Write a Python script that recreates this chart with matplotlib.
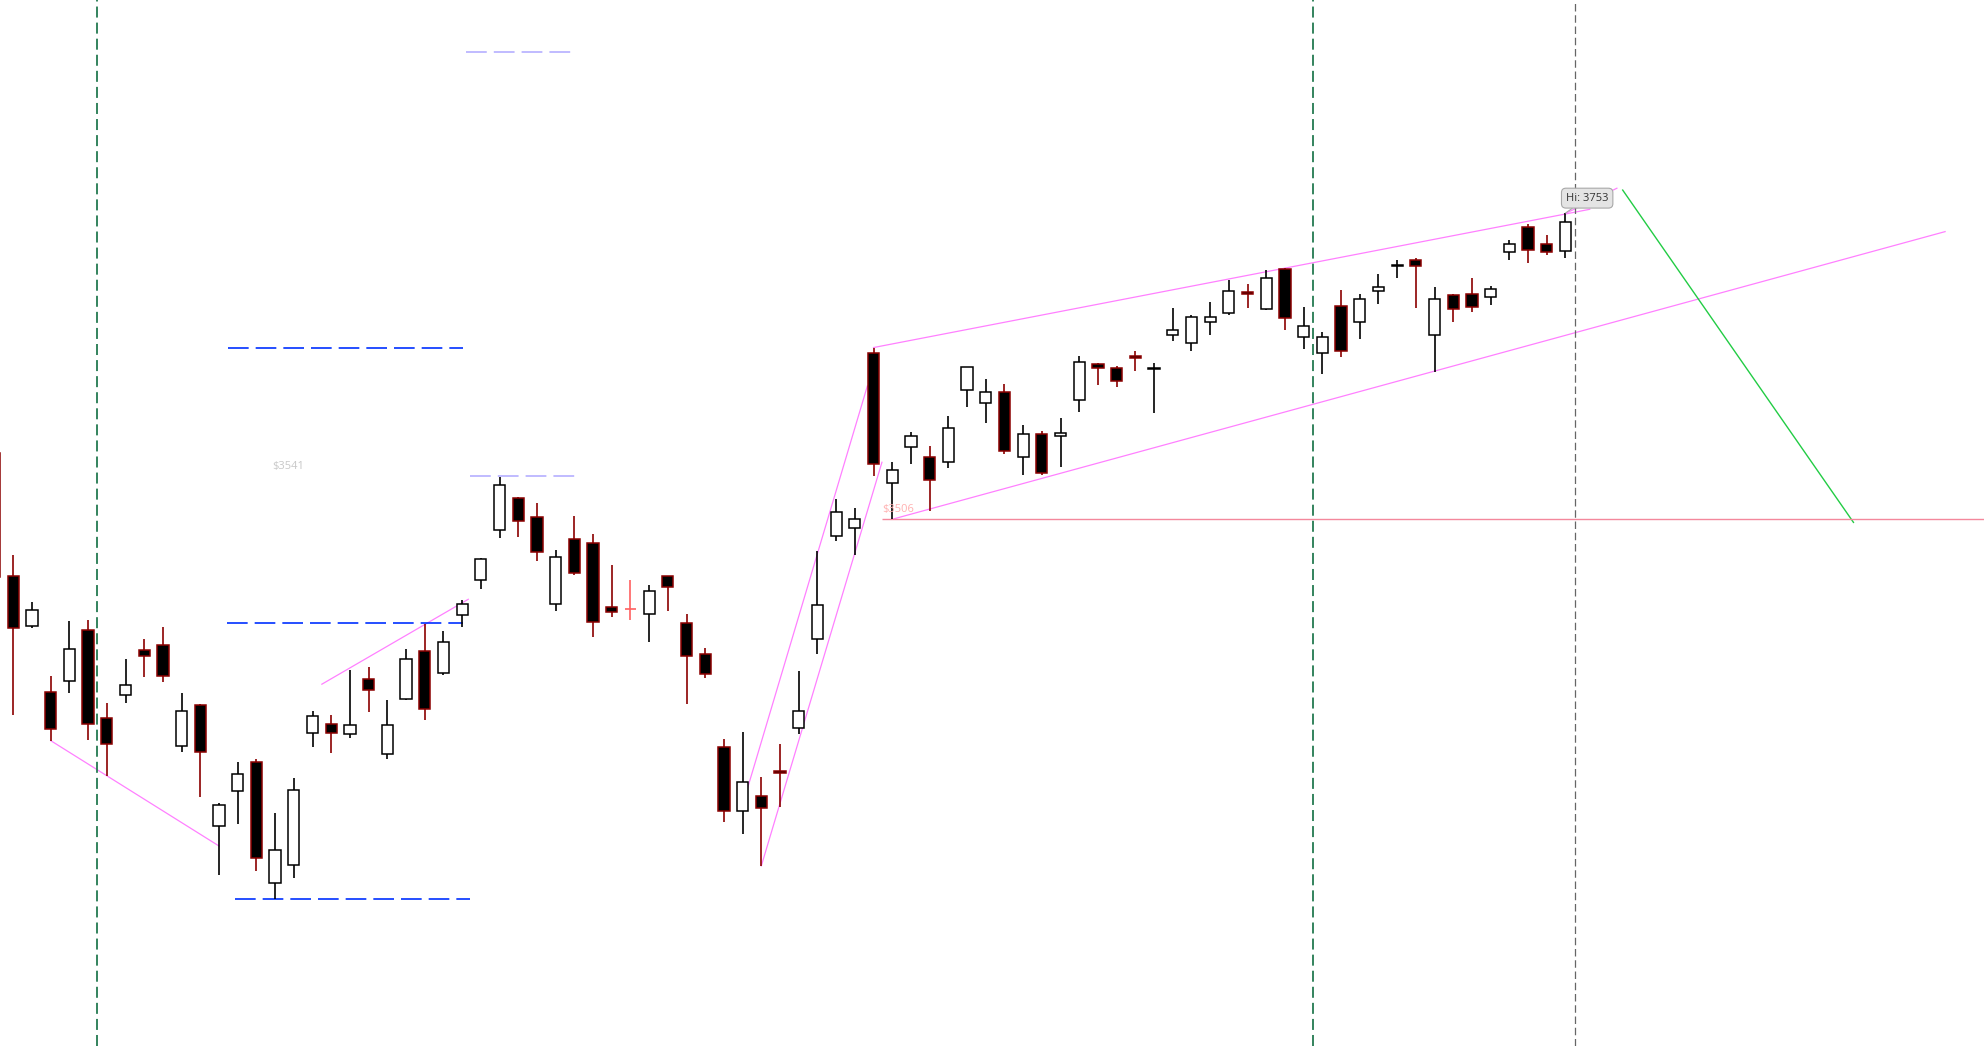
import numpy as np
import matplotlib
matplotlib.use("Agg")
import matplotlib.pyplot as plt

# OHLC, bar -1 is the one cut off at the left edge
opens = [3559.5, 3460, 3420, 3366.5, 3375.5, 3417, 3346, 3364, 3400.5, 3404.5,
         3323.5, 3356, 3259, 3286.5, 3310, 3213, 3227, 3333.5, 3340.5, 3332.5,
         3377, 3316.5, 3361, 3399.5, 3382, 3428.5, 3457, 3497, 3523.5, 3507.5,
         3437.5, 3490, 3486.5, 3435, 3433.5, 3430, 3460, 3422, 3397.5, 3322,
         3271, 3283, 3303, 3338, 3409.5, 3492.5, 3499, 3640, 3535, 3564,
         3556, 3552.5, 3610, 3599.5, 3609, 3556, 3574.5, 3573, 3602, 3631,
         3628, 3637.5, 3627.5, 3655, 3648, 3665.5, 3672, 3689.5, 3675.5, 3707.5,
         3653, 3640, 3678, 3665.5, 3690, 3710.5, 3715, 3655, 3686.5, 3687.5,
         3685, 3721.5, 3742, 3728, 3722]
highs = [3559.5, 3477, 3439, 3380, 3424, 3425, 3358, 3393, 3409.5, 3419.5,
         3365.5, 3357, 3277, 3310, 3313, 3269, 3297, 3351.5, 3348.5, 3384.5,
         3387, 3360, 3401.5, 3421.5, 3416, 3441, 3475, 3540.5, 3524, 3519.5,
         3481, 3508.5, 3494, 3469.5, 3457, 3453, 3460.5, 3430, 3402.5, 3329,
         3334.5, 3298, 3325, 3383.5, 3480.5, 3522.5, 3515, 3644.5, 3552, 3576,
         3565, 3589, 3629, 3619.5, 3615.5, 3582, 3577, 3587.5, 3637.5, 3632,
         3630, 3641.5, 3632, 3676, 3671, 3681, 3699, 3695.5, 3707, 3709,
         3677, 3657, 3691, 3687.5, 3703.5, 3715.5, 3717, 3693, 3687.5, 3700.5,
         3694.5, 3731, 3744.5, 3735, 3753]
lows = [3459.5, 3348, 3418, 3327.5, 3365.5, 3328, 3299, 3358, 3378.5, 3374.5,
        3318.5, 3282, 3219, 3260, 3222, 3200, 3217, 3322, 3317.5, 3330,
        3350.5, 3312.5, 3360.5, 3344, 3380.5, 3419, 3449.5, 3490.5, 3491.5, 3472,
        3432, 3461, 3411, 3427, 3424.5, 3407, 3432, 3357, 3378, 3262,
        3252, 3226.5, 3274, 3332.5, 3397, 3488.5, 3477.5, 3541, 3506, 3550.5,
        3512.5, 3547, 3596.5, 3583.5, 3559, 3541.5, 3542, 3548, 3592.5, 3614,
        3612.5, 3625.5, 3591.5, 3649.5, 3641.5, 3654.5, 3671, 3676, 3675, 3658.5,
        3643, 3623.5, 3636.5, 3651, 3680, 3700.5, 3676, 3624.5, 3665, 3673.5,
        3678.5, 3715, 3713, 3719.5, 3717]
closes = [3459.5, 3418, 3433, 3336.5, 3401, 3341, 3324.5, 3372, 3395.5, 3379.5,
          3351, 3318, 3275.5, 3300.5, 3232.5, 3239, 3288, 3347, 3334, 3340,
          3368, 3340, 3393, 3353, 3407, 3437.5, 3474, 3533.5, 3505, 3480,
          3475.5, 3462.5, 3423.5, 3431, 3433.5, 3448, 3451, 3395.5, 3381, 3271,
          3294.5, 3273.5, 3301, 3351, 3437, 3512, 3506, 3550.5, 3545.5, 3573,
          3538, 3580, 3628.5, 3609, 3561, 3574.5, 3543, 3575.5, 3632.5, 3628,
          3617.5, 3636, 3628, 3658.5, 3669, 3669.5, 3690, 3688, 3700.5, 3668,
          3661.5, 3653, 3642, 3684, 3693, 3711, 3710, 3683.5, 3675.5, 3677,
          3691.5, 3728, 3723, 3721.5, 3745.5]

# drawn lines: (bar, price) start and end
pink_lines = [((2.0, 3327.5), (11.0, 3242.5)),
              ((16.5, 3373), (24.33, 3441.5)),
              ((39.25, 3288.5), (45.67, 3613.5)),
              ((40.0, 3226.5), (46.45, 3552)),
              ((46.0, 3644.5), (84.3, 3756)),
              ((83.05, 3753), (85.75, 3773)),
              ((47.0, 3506), (103.3, 3738))]
green_line = ((86.06, 3771.5), (98.4, 3503.5))

# measured move levels
blue_levels = [3644.4, 3422.2, 3200]
blue_spans = [(11.5, 24.03), (11.43, 24.05), (11.86, 24.42)]
lav_levels = [3541, 3883]
lav_spans = [(24.42, 30.04), (24.2, 29.82)]

support_price = 3506
support_start = 46.47
session_breaks = [4.5, 69.5]
last_bar_edge = 83.5
hi_bar, hi_price = 83, 3753

bars = np.arange(len(opens)) - 1
o = np.array(opens)
h = np.array(highs)
l = np.array(lows)
c = np.array(closes)

fig = plt.figure(figsize=(19.84, 10.46), dpi=100)
ax = fig.add_axes([0, 0, 1, 1])
ax.set_xlim(-0.711, 105.38)
ax.set_ylim(3081.2, 3924.8)
ax.axis('off')

up = c > o
down = c < o
flat = c == o
bear_red = '#8b0000'

# wicks
ax.vlines(bars[up], l[up], h[up], color='black', lw=1.2, zorder=2)
ax.vlines(bars[down], l[down], h[down], color=bear_red, lw=1.2, zorder=2)
ax.vlines(bars[flat], l[flat], h[flat], color='#ff6060', lw=1.2, zorder=2)

# bodies
w = 0.6
ax.bar(bars[up], c[up] - o[up], bottom=o[up], width=w,
       color='white', edgecolor='black', lw=1.1, zorder=3)
ax.bar(bars[down], o[down] - c[down], bottom=c[down], width=w,
       color='black', edgecolor=bear_red, lw=1.1, zorder=3)
ax.hlines(c[flat], bars[flat] - w / 2, bars[flat] + w / 2,
          color='#ff6060', lw=1.2, zorder=3)

# trend lines
for (x0, y0), (x1, y1) in pink_lines:
    ax.plot([x0, x1], [y0, y1], color='#ff80ff', lw=0.9, zorder=1)
ax.plot([green_line[0][0], green_line[1][0]], [green_line[0][1], green_line[1][1]],
        color='#22cc44', lw=1.0, zorder=1)

ax.hlines(support_price, support_start, 106, color='#f4889c', lw=1.0, zorder=1)
ax.text(support_start, 3513.5, '$3506', color='#ffb0b0', fontsize=8,
        family='Open Sans', va='center', ha='left', zorder=4)
ax.text(13.87, 3548.4, '$3541', color='#c8c8c8', fontsize=8,
        family='Open Sans', va='center', ha='left', zorder=4)

for lev, (x0, x1) in zip(blue_levels, blue_spans):
    ax.plot([x0, x1], [lev, lev], color='#0030ff', lw=1.2,
            dashes=(12.4, 4.2), zorder=1)
for lev, (x0, x1) in zip(lav_levels, lav_spans):
    ax.plot([x0, x1], [lev, lev], color='#bbb5ff', lw=1.3,
            dashes=(11.5, 3.9), zorder=1)

for xb in session_breaks:
    ax.axvline(xb, color='#237a50', lw=1.3, dashes=(6.1, 2.8), zorder=1)
ax.axvline(last_bar_edge, color='#666666', lw=0.9, dashes=(6, 3), zorder=1)

ax.annotate('Hi: %d' % hi_price, xy=(hi_bar, hi_price), xytext=(84.16, 3765),
            ha='center', va='center', fontsize=8, family='Open Sans', color='#333333',
            bbox=dict(boxstyle='round,pad=0.4', fc='#e4e4e4', ec='#a8a8a8', lw=0.8),
            arrowprops=dict(arrowstyle='-', color='#a8a8a8', lw=0.8,
                            shrinkA=0, shrinkB=0),
            zorder=5)

fig.savefig('out.png', dpi=100, facecolor='white')
